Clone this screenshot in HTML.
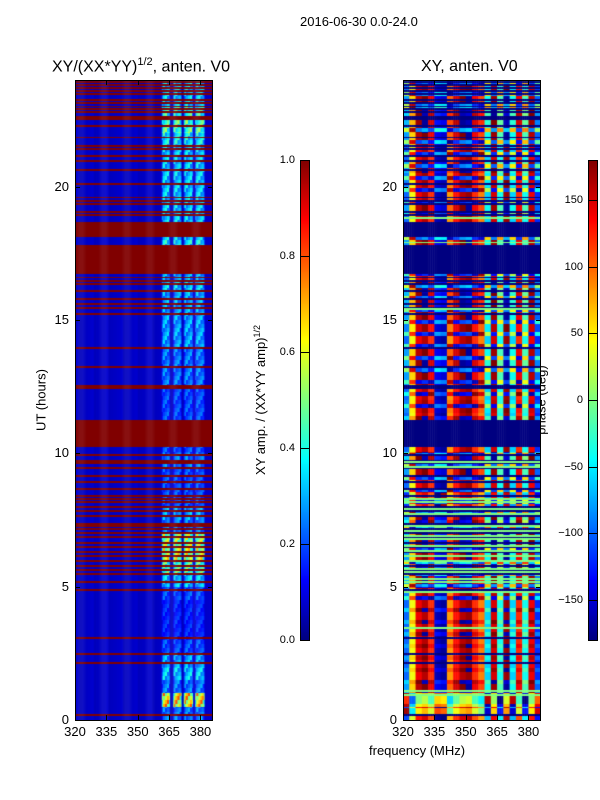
<!DOCTYPE html>
<html><head><meta charset="utf-8">
<style>
body{margin:0;background:#fff;width:600px;height:800px;overflow:hidden;position:relative;font-family:"Liberation Sans",sans-serif;color:#000}
.t{position:absolute;white-space:nowrap}
canvas{position:absolute}
.frame{position:absolute;border:1px solid #000;box-sizing:border-box}
</style></head><body>
<div class="t" style="left:300px;top:14px;font-size:13px">2016-06-30 0.0-24.0</div>
<div class="t" style="left:52px;top:56px;font-size:16px">XY/(XX*YY)<sup style="font-size:11px">1/2</sup>, anten. V0</div>
<div class="t" style="left:421px;top:58px;font-size:16px">XY, anten. V0</div>
<div class="t" style="left:41px;top:400px;font-size:13px;transform:translate(-50%,-50%) rotate(-90deg)">UT (hours)</div>
<div class="t" style="left:369px;top:743px;font-size:13px">frequency (MHz)</div>
<div class="t" style="left:260px;top:400px;font-size:13px;transform:translate(-50%,-50%) rotate(-90deg)">XY amp. / (XX*YY amp)<sup style="font-size:9px">1/2</sup></div>
<div class="t" style="left:541px;top:400px;font-size:13px;transform:translate(-50%,-50%) rotate(-90deg)">phase (deg)</div>

<canvas id="cl" width="138" height="640" style="left:75px;top:80px"></canvas>
<canvas id="cr" width="138" height="640" style="left:403px;top:80px"></canvas>
<canvas id="cb1" width="10" height="480" style="left:300px;top:160px"></canvas>
<canvas id="cb2" width="10" height="480" style="left:588px;top:160px"></canvas>
<div class="frame" style="left:75px;top:80px;width:138px;height:641px"></div>
<div class="frame" style="left:403px;top:80px;width:138px;height:641px"></div>
<div class="frame" style="left:300px;top:160px;width:10px;height:481px"></div>
<div class="frame" style="left:588px;top:160px;width:10px;height:481px"></div>
<div id="ticks"></div>
<script>
// ---- data ----
const hourTicks=[0,5,10,15,20];
const freqTicks=[320,335,350,365,380];
const ampTicks=[0.0,0.2,0.4,0.6,0.8,1.0];
const phaseTicks=[-150,-100,-50,0,50,100,150];
const bigFlags=[[18.12,18.69],[16.72,17.81],[10.24,11.25]];
const thinFlags=[23.88,23.79,23.65,23.56,23.44,23.22,23.1,22.97,22.87,22.75,22.5,22.58,22.25,21.81,21.5,21.37,21.1,20.94,20.59,20.06,19.56,19.44,19.31,19.0,18.9,16.56,16.44,16.31,16.06,15.75,15.56,15.4,15.19,13.9,13.2,12.5,12.4,10.23,9.9,9.69,9.6,9.4,9.1,8.9,8.62,8.37,8.25,8.13,7.95,7.81,7.62,7.31,7.23,7.12,6.98,6.82,6.6,6.46,6.25,6.1,5.94,5.75,5.6,5.44,5.15,4.85,3.03,2.44,2.1,0.15];
const greenLines=[18.8,17.87,15.37,9.64,9.45,8.25,8.13,7.87,7.69,7.24,7.05,6.86,6.75,6.49,6.3,6.11,5.93,5.62,5.51,5.25,5.14,4.76,3.4,1.05,0.9];
const stripCenters=[363.5,369,374.3,379.7];
const leftBase=0.06;
const stripAmp=[0.3,0.8,0.3,0.4,0.35,0.25,0.2,0.2,0.2,0.25,0.4,0.55,0.7,0.65,0.3,0.35,0.25,0.25,0.25,0.3,0.25,0.25,0.25,0.25,0.25,0.3,0.3,0.3,0.35,0.35,0.35,0.35,0.4,0.35,0.35,0.45,0.4,0.4,0.4,0.4,0.4,0.4,0.4,0.45,0.55,0.5,0.4,0.4];
const phaseProfile=[-100,40,140,160,120,-160,-170,80,130,160,170,120,90,-60,150,-40,170,-60,120,-40,140,-120];
const phaseOffset=[-90,-140,20,0,0,0,0,0,0,10,30,60,20,40,60,30,-20,0,20,40,0,0,0,10,0,20,30,20,0,10,20,30,40,0,0,20,30,0,20,0,10,30,0,20,30,40,20,10];
const stripeAmp=[80,40,20,20,20,20,30,30,40,60,100,100,80,100,100,100,100,100,80,80,40,40,40,60,60,60,80,80,80,80,80,80,90,80,80,80,90,60,60,80,80,80,90,90,100,100,100,100];

// ---- helpers ----
const F0=320,F1=386,H0=0,H1=24,W=138,H=640;
const xs=f=>(f-F0)/(F1-F0)*W;
const ys=h=>H-(h-H0)/(H1-H0)*H;
function jet(v){v=Math.max(0,Math.min(1,v));
 const c=x=>Math.max(0,Math.min(1,x));
 return [c(1.5-Math.abs(4*v-3)),c(1.5-Math.abs(4*v-2)),c(1.5-Math.abs(4*v-1))].map(x=>Math.round(x*255));}
function wrap(p){while(p>180)p-=360;while(p<-180)p+=360;return p}
function flagged(h){for(const b of bigFlags)if(h>=b[0]&&h<b[1])return true;
 for(const t of thinFlags)if(h>=t&&h<t+0.07)return true;return false}
function isGreen(h){for(const t of greenLines)if(h>=t&&h<t+0.07)return true;return false}
const dh=24/640;

// left heatmap
(function(){const ctx=document.getElementById('cl').getContext('2d');
 for(let r=0;r<640;r++){const h=24-(r+0.5)*dh;const hi=Math.min(47,Math.floor(h*2));
  for(let f=F0;f<F1;f+=0.5){let v=leftBase+0.02*((Math.floor(f)%7)/7);
   for(const c of stripCenters){const d=Math.abs(f+0.25-c);if(d<2.2)v=stripAmp[hi]*(0.6+0.4*(((r>>2)+Math.floor(f))%4)/3)*(d>1.6?0.7:1);}
   if(flagged(h))v=1;
   const [R,G,B]=jet(v);ctx.fillStyle=`rgb(${R},${G},${B})`;
   const x0=xs(f),x1=xs(f+0.5);ctx.fillRect(x0,r,x1-x0+0.5,1);}}
})();
// right heatmap
(function(){const ctx=document.getElementById('cr').getContext('2d');
 for(let r=0;r<640;r++){const h=24-(r+0.5)*dh;const hi=Math.min(47,Math.floor(h*2));
  for(let f=F0;f<F1;f++){const bi=Math.min(phaseProfile.length-1,Math.floor((f-F0)/3));
   let p=wrap(phaseProfile[bi]+phaseOffset[hi]+(((r>>2)%3)==0?stripeAmp[hi]:0));
   if(flagged(h))p=-180;
   if(isGreen(h))p=0;
   const [R,G,B]=jet((p+180)/360);ctx.fillStyle=`rgb(${R},${G},${B})`;
   const x0=xs(f),x1=xs(f+1);ctx.fillRect(x0,r,x1-x0+0.5,1);}}
})();
// colorbars
['cb1','cb2'].forEach(id=>{const ctx=document.getElementById(id).getContext('2d');
 for(let r=0;r<480;r++){const [R,G,B]=jet(1-(r+0.5)/480);ctx.fillStyle=`rgb(${R},${G},${B})`;ctx.fillRect(0,r,10,1);}});

// ticks
const tk=document.getElementById('ticks');
function add(html,name){const d=document.createElement('div');d.innerHTML=html;const el=d.firstChild;
 
 
 tk.appendChild(el);}
[75,403].forEach((px,pi)=>{
 hourTicks.forEach(hv=>{const y=80+ys(hv);
  add(`<div class="t" style="left:${px-30}px;top:${y-8}px;width:24px;text-align:right;font-size:13px">${hv}</div>`,'y-tick-label');
  add(`<div style="position:absolute;left:${px}px;top:${y}px;width:5px;height:1px;background:#000"></div>`,'y-tick');
  add(`<div style="position:absolute;left:${px+133}px;top:${y}px;width:5px;height:1px;background:#000"></div>`,'y-tick');});
 freqTicks.forEach(fv=>{const x=px+xs(fv);
  add(`<div class="t" style="left:${x-20}px;top:724px;width:40px;text-align:center;font-size:13px">${fv}</div>`,'x-tick-label');
  add(`<div style="position:absolute;left:${x}px;top:715px;width:1px;height:5px;background:#000"></div>`,'x-tick');
  add(`<div style="position:absolute;left:${x}px;top:80px;width:1px;height:5px;background:#000"></div>`,'x-tick');});
});
ampTicks.forEach(v=>{const y=640-v*480;
 add(`<div class="t" style="left:266px;top:${y-6}px;width:29px;text-align:right;font-size:11px">${v.toFixed(1)}</div>`,'colorbar-tick-label');
 add(`<div style="position:absolute;left:300px;top:${y}px;width:10px;height:1px;background:#000"></div>`,'colorbar-tick');});
phaseTicks.forEach(v=>{const y=640-(v+180)/360*480;
 add(`<div class="t" style="left:546px;top:${y-6}px;width:37px;text-align:right;font-size:11px">${v<0?'\u2212'+(-v):v}</div>`,'colorbar-tick-label');
 add(`<div style="position:absolute;left:588px;top:${y}px;width:10px;height:1px;background:#000"></div>`,'colorbar-tick');});
</script>
</body></html>
